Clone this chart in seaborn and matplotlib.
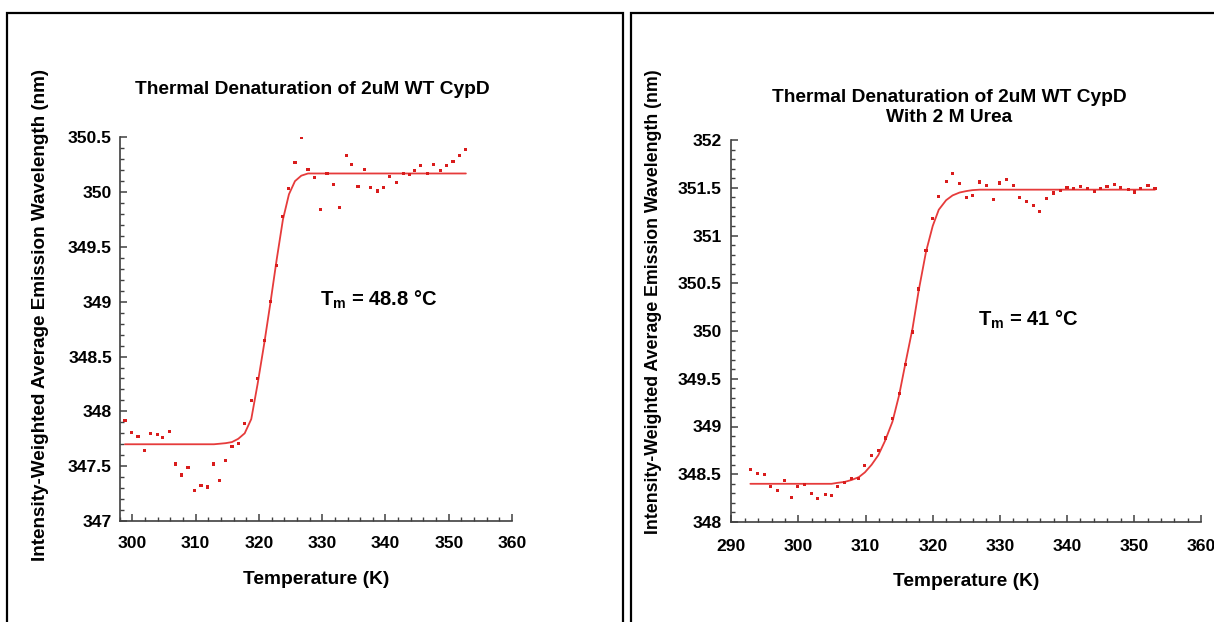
import matplotlib
matplotlib.use("Agg")
import matplotlib.pyplot as plt
from matplotlib.patches import Rectangle
from matplotlib.ticker import MultipleLocator
import seaborn as sns
import pandas as pd

# ---------------- data ----------------
left_temp = [298.85, 299.9, 300.9, 301.9, 302.9, 303.95, 304.8, 305.85, 306.8, 307.8,
             308.8, 309.86, 310.85, 311.85, 312.9, 313.85, 314.75, 315.75, 316.75, 317.76,
             318.8, 319.8, 320.85, 321.85, 322.8, 323.8, 324.75, 325.7, 326.7, 327.76,
             328.75, 329.76, 330.76, 331.76, 332.8, 333.8, 334.66, 335.65, 336.7, 337.7,
             338.7, 339.7, 340.7, 341.7, 342.8, 343.76, 344.6, 345.6, 346.6, 347.6,
             348.66, 349.66, 350.66, 351.66, 352.7]
left_wl = [347.92, 347.81, 347.77, 347.64, 347.80, 347.79, 347.76, 347.82, 347.52, 347.42,
           347.49, 347.28, 347.32, 347.31, 347.52, 347.37, 347.55, 347.68, 347.71, 347.89,
           348.10, 348.30, 348.65, 349.00, 349.33, 349.78, 350.03, 350.27, 350.50, 350.21,
           350.13, 349.84, 350.17, 350.07, 349.86, 350.33, 350.25, 350.05, 350.21, 350.04,
           350.01, 350.04, 350.14, 350.09, 350.17, 350.16, 350.20, 350.24, 350.17, 350.25,
           350.20, 350.24, 350.28, 350.33, 350.39]
left_fit = [347.70] * 15 + [347.705, 347.71, 347.72, 347.75, 347.80,
                            347.93, 348.25, 348.62, 349.00, 349.38,
                            349.75, 349.98, 350.10, 350.15, 350.17] + [350.17] * 25

right_temp = [292.84, 293.95, 294.9, 295.8, 296.9, 297.87, 298.9, 299.9, 300.85, 301.9,
              302.9, 304.0, 304.93, 305.8, 306.9, 307.9, 309.0, 309.9, 310.9, 311.9,
              312.9, 314.0, 315.0, 315.9, 317.0, 317.9, 319.0, 320.0, 320.9, 322.0,
              322.96, 324.0, 325.0, 325.9, 327.0, 328.0, 329.06, 330.0, 331.0, 332.0,
              332.9, 334.0, 335.0, 335.96, 337.0, 338.0, 339.0, 340.0, 340.97, 342.0,
              343.0, 344.05, 345.0, 345.96, 347.1, 348.0, 349.1, 350.0, 351.0, 352.06,
              353.1]
right_wl = [348.55, 348.51, 348.50, 348.37, 348.33, 348.43, 348.26, 348.37, 348.39, 348.30,
            348.25, 348.29, 348.28, 348.37, 348.41, 348.46, 348.46, 348.59, 348.70, 348.75,
            348.88, 349.08, 349.35, 349.65, 349.99, 350.44, 350.84, 351.18, 351.41, 351.57,
            351.65, 351.54, 351.40, 351.42, 351.56, 351.52, 351.38, 351.55, 351.59, 351.52,
            351.40, 351.36, 351.31, 351.25, 351.39, 351.445, 351.47, 351.50, 351.49, 351.51,
            351.49, 351.46, 351.49, 351.51, 351.53, 351.50, 351.48, 351.455, 351.49, 351.52,
            351.49]
right_fit = [348.40] * 13 + [348.41,
             348.42, 348.44, 348.47, 348.52, 348.60, 348.70, 348.85, 349.05, 349.33, 349.65,
             350.03, 350.42, 350.83, 351.10, 351.27, 351.37, 351.42, 351.45, 351.465, 351.475] + [351.48] * 27

titles = ["Thermal Denaturation of 2uM WT CypD",
          "Thermal Denaturation of 2uM WT CypD\nWith 2 M Urea"]
tm_labels = [r"$\mathrm{T_m}$ = 48.8 °C", r"$\mathrm{T_m}$ = 41 °C"]
xlabel = "Temperature (K)"
ylabel = "Intensity-Weighted Average Emission Wavelength (nm)"

# ---------------- style ----------------
sns.set_theme(style="ticks")
plt.rcParams["font.family"] = ["Liberation Sans", "DejaVu Sans"]
plt.rcParams["font.weight"] = "bold"
plt.rcParams["text.color"] = "black"
plt.rcParams["axes.labelcolor"] = "black"
plt.rcParams["mathtext.fontset"] = "custom"
plt.rcParams["mathtext.rm"] = "Liberation Sans:bold"
plt.rcParams["mathtext.it"] = "Liberation Sans:bold"
plt.rcParams["mathtext.bf"] = "Liberation Sans:bold"

W, H = 1214, 622
fig = plt.figure(figsize=(W / 100, H / 100), dpi=100)

def px_axes(x0, x1, ytop, ybot):
    return fig.add_axes([x0 / W, (H - ybot) / H, (x1 - x0) / W, (ybot - ytop) / H])

axL = px_axes(119.6, 512.1, 137.3, 521.0)
axR = px_axes(731.3, 1201.3, 140.0, 522.0)

red = "#d91c1c"
line_red = "#e63b3b"

panels = [
    dict(ax=axL, t=left_temp, wl=left_wl, fit=left_fit, xl=(298, 360), yl=(347, 350.5),
         title=titles[0], tx=0.491, ty=1.103, tm=tm_labels[0], tmpos=(329.6, 349.02),
         xpad=11, ypad=5.5, ylab_fs=13.6, ylab_y=0.536, xlab_pad=14),
    dict(ax=axR, t=right_temp, wl=right_wl, fit=right_fit, xl=(290, 360), yl=(348, 352),
         title=titles[1], tx=0.463, ty=1.037, tm=tm_labels[1], tmpos=(326.8, 350.12),
         xpad=12, ypad=7, ylab_fs=12.8, ylab_y=0.576, xlab_pad=14),
]

for p in panels:
    ax = p["ax"]
    df = pd.DataFrame({"T": p["t"], "wl": p["wl"], "fit": p["fit"]})
    sns.lineplot(data=df, x="T", y="fit", ax=ax, color=line_red, lw=1.3, sort=True,
                 estimator=None, zorder=2)
    sns.scatterplot(data=df, x="T", y="wl", ax=ax, color=red, s=5, marker="s",
                    edgecolor="none", zorder=3)
    ax.set_xlim(*p["xl"])
    ax.set_ylim(*p["yl"])
    ax.xaxis.set_major_locator(MultipleLocator(10))
    ax.xaxis.set_minor_locator(MultipleLocator(2))
    ax.yaxis.set_major_locator(MultipleLocator(0.5))
    ax.yaxis.set_minor_locator(MultipleLocator(0.1))
    ax.yaxis.set_major_formatter(matplotlib.ticker.FuncFormatter(lambda v, pos: f"{v:g}"))
    ax.tick_params(which="major", direction="in", length=5, width=1.1, color="#404040",
                   labelsize=12.6, labelcolor="black")
    ax.tick_params(axis="x", which="major", pad=p["xpad"])
    ax.tick_params(axis="y", which="major", pad=p["ypad"])
    ax.tick_params(which="minor", direction="in", length=3, width=1.0, color="#404040")
    for lab in ax.get_xticklabels() + ax.get_yticklabels():
        lab.set_fontweight("bold")
    sns.despine(ax=ax)
    for s in ("left", "bottom"):
        ax.spines[s].set_color("#404040")
        ax.spines[s].set_linewidth(1.2)
    ax.set_xlabel(xlabel, fontsize=13.8, fontweight="bold", labelpad=p["xlab_pad"])
    ax.set_ylabel(ylabel, fontsize=p["ylab_fs"], fontweight="bold")
    ax.text(p["tx"], p["ty"], p["title"], transform=ax.transAxes, ha="center", va="bottom",
            fontsize=13.8, fontweight="bold", linespacing=1.2)
    ax.text(p["tmpos"][0], p["tmpos"][1], p["tm"], ha="left", va="center", fontsize=14.5,
            fontweight="bold")

# y-label horizontal positions (pixel x of label's right edge)
axL.yaxis.set_label_coords((49 - 119.6) / (512.1 - 119.6), panels[0]["ylab_y"])
axR.yaxis.set_label_coords((662 - 731.3) / (1201.3 - 731.3), panels[1]["ylab_y"])

# panel frames
fig.patches.append(Rectangle((6.5 / W, -0.1), (623.3 - 6.5) / W, (H - 12.5) / H + 0.1,
                             transform=fig.transFigure, fill=False, ec="black", lw=1.6))
fig.patches.append(Rectangle((631 / W, -0.1), (1260 - 631) / W, (H - 12.5) / H + 0.1,
                             transform=fig.transFigure, fill=False, ec="black", lw=1.6))

fig.savefig("out.png", dpi=100)
